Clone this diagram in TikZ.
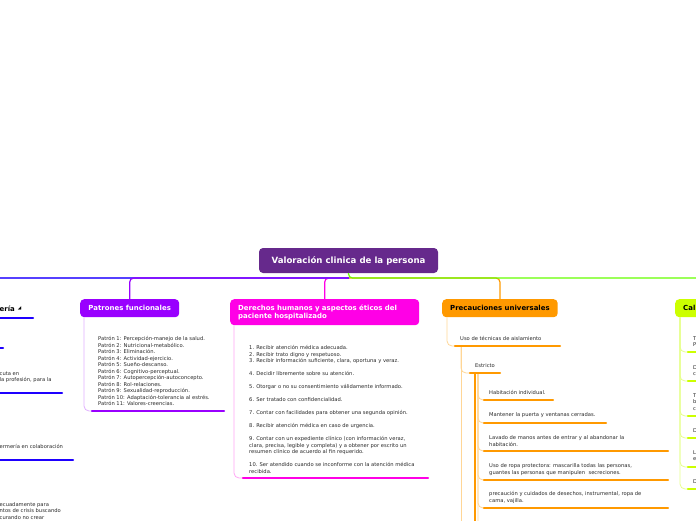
\documentclass[tikz,border=0pt]{standalone}
\usepackage{fontspec}
\setmainfont{DejaVu Sans}
\usepackage{xcolor}
\usetikzlibrary{positioning}
\definecolor{rootpurple}{RGB}{102,41,140}
\definecolor{patviolet}{RGB}{153,0,255}
\definecolor{patlight}{RGB}{224,175,255}
\definecolor{dermagenta}{RGB}{255,0,230}
\definecolor{derlight}{RGB}{255,165,245}
\definecolor{precorange}{RGB}{255,153,0}
\definecolor{preclight}{RGB}{255,214,150}
\definecolor{calgreen}{RGB}{204,255,0}
\definecolor{callight}{RGB}{230,255,140}
\definecolor{enfblue}{RGB}{30,0,255}
\definecolor{limegreen}{RGB}{102,255,0}
\definecolor{leaftext}{RGB}{40,40,40}

\tikzset{
  rootbox/.style={fill=rootpurple, rounded corners=4pt, text=white, inner sep=0pt,
    font=\bfseries\fontsize{8.6}{10}\selectfont, minimum width=179pt, minimum height=25pt},
  topicbox/.style={rounded corners=4pt, anchor=north west, inner xsep=8pt, inner ysep=0pt,
    font=\bfseries\fontsize{6.95}{8}\selectfont, minimum height=18pt},
  leaf/.style={anchor=north west, inner sep=0pt, align=left, text=leaftext,
    font=\fontsize{5.2}{6.5}\selectfont},
  bar/.style={line width=2.4pt, line cap=round},
  twig/.style={line width=0.8pt, rounded corners=5pt},
  trunk/.style={line width=1.2pt, rounded corners=4pt}
}

\begin{document}
\begin{tikzpicture}[x=1pt,y=-1pt]
\useasboundingbox (0,0) rectangle (696,520);
\clip (0,0) rectangle (696,520);

% central topic
\node[rootbox] (root) at (348.5,260.5) {Valoración clinica de la persona};
\coordinate (hub) at (349,278);
\coordinate (enfhub) at (-10,278);
\coordinate (calhub) at (710,278);

% main topics
\node[topicbox, fill=patviolet, text=white, minimum width=99pt] (patrones) at (80,299) {Patrones funcionales};
\node[topicbox, fill=dermagenta, text=white, text width=173pt, align=left, minimum height=26pt] (derechos) at (230,299)
  {Derechos humanos y aspectos éticos del\\paciente hospitalizado};
\node[topicbox, fill=precorange, text=black, minimum width=114pt] (precauciones) at (442,299) {Precauciones universales};
\node[topicbox, fill=calgreen, text=black, text width=40pt, align=left] (calidad) at (675,299) {Cal};

\draw[trunk, dermagenta] (hub) -| (derechos.north);
\draw[trunk, precorange] (hub) -| (precauciones.north);
\draw[trunk, enfblue!75] (hub) -- (enfhub);
\draw[trunk, patviolet] (hub) -| (patrones.north);
\draw[trunk, limegreen] (root.south) |- (calhub);

% enfermeria (cut at the left edge)
\node[anchor=west, inner sep=0pt, font=\bfseries\fontsize{6.95}{8}\selectfont] (enfermeria) at (-0.5,308.5) {ería};
\node[right=2.5pt of enfermeria, inner sep=0pt, font=\fontsize{4.5}{5}\selectfont] (enfmark) {◢};
\node[leaf] (enfcuta) at (-0.5,371.5) {cuta en\\la profesión, para la};
\node[leaf] (enfcolab) at (-0.5,444.5) {ermería en colaboración};
\node[leaf] (enfcrisis) at (-0.5,502) {ecuadamente para\\ntos de crisis buscando\\curando no crear};
\foreach \y/\r in {318/33,348/3,393/62,460/73}
  \draw[bar, enfblue] (-5,\y) -- (\r,\y);

% patrones funcionales
\node[leaf] (patlist) at (98,336.5) {Patrón 1: Percepción-manejo de la salud.\\
  Patrón 2: Nutricional-metabólico.\\
  Patrón 3: Eliminación.\\
  Patrón 4: Actividad-ejercicio.\\
  Patrón 5: Sueño-descanso.\\
  Patrón 6: Cognitivo-perceptual.\\
  Patrón 7: Autopercepción-autoconcepto.\\
  Patrón 8: Rol-relaciones.\\
  Patrón 9: Sexualidad-reproducción.\\
  Patrón 10: Adaptación-tolerancia al estrés.\\
  Patrón 11: Valores-creencias.};
\coordinate (patbarL) at (92,411);
\coordinate (patbarR) at (224,411);
\draw[twig, patlight] ([xshift=4pt]patrones.south west) |- (patbarL);
\draw[bar, patviolet] (patbarL) -- (patbarR);

% derechos
\node[leaf] (derlist) at (249,345.5) {1. Recibir atención médica adecuada.\\
  2. Recibir trato digno y respetuoso.\\
  3. Recibir información suficiente, clara, oportuna y veraz.\\[6.5pt]
  4. Decidir libremente sobre su atención.\\[6.5pt]
  5. Otorgar o no su consentimiento válidamente informado.\\[6.5pt]
  6. Ser tratado con confidencialidad.\\[6.5pt]
  7. Contar con facilidades para obtener una segunda opinión.\\[6.5pt]
  8. Recibir atención médica en caso de urgencia.\\[6.5pt]
  9. Contar con un expediente clínico (con información veraz,\\
  clara, precisa, legible y completa) y a obtener por escrito un\\
  resumen clínico de acuerdo al fin requerido.\\[6.5pt]
  10. Ser atendido cuando se inconforme con la atención médica\\
  recibida.};
\coordinate (derbarL) at (243,478);
\coordinate (derbarR) at (428,478);
\draw[twig, derlight] ([xshift=4pt]derechos.south west) |- (derbarL);
\draw[bar, dermagenta] (derbarL) -- (derbarR);

% precauciones universales
\node[leaf] (aislamiento) at (460,336.5) {Uso de técnicas de aislamiento};
\coordinate (aisL) at (455,346);
\coordinate (aisR) at (560,346);
\coordinate (aisnext) at (461,530);
\draw[twig, preclight] ([xshift=5pt]precauciones.south west) |- (aisL);
\draw[twig, preclight] ([xshift=6pt]aisL) -- (aisnext);

\node[leaf] (estricto) at (475,363.5) {Estricto};
\coordinate (estL) at (470,373);
\coordinate (estR) at (500,373);
\coordinate (estnext) at (475,530);
\draw[twig, preclight] ([xshift=6pt]aisL) |- (estL);

\node[leaf] (habitacion) at (489,390.5) {Habitación individual.};
\node[leaf] (puerta) at (489,412.5) {Mantener la puerta y ventanas cerradas.};
\node[leaf] (lavado) at (489,435.5) {Lavado de manos antes de entrar y al abandonar la\\habitación.};
\node[leaf] (ropa) at (489,463.5) {Uso de ropa protectora: mascarilla todas las personas,\\guantes las personas que manipulen\ \ secreciones.};
\node[leaf] (desechos) at (489,491.5) {precaución y cuidados de desechos, instrumental, ropa de\\cama, vajilla.};
\coordinate (habL) at (484,400);
\coordinate (puertaL) at (484,423);
\coordinate (lavadoL) at (484,451);
\coordinate (ropaL) at (484,480);
\coordinate (desechosL) at (484,508);
\coordinate (masL) at (484,536);
\foreach \b in {habL,puertaL,lavadoL,ropaL,desechosL,masL}
  \draw[twig, preclight] ([xshift=8pt]estL) |- (\b);
\draw[line width=1.2pt, precorange] ([xshift=5pt]estL) -- (estnext);
\draw[bar, precorange] (aisL) -- (aisR);
\draw[bar, precorange] (estL) -- (estR);
\draw[bar, precorange] (habL) -- (553,400);
\draw[bar, precorange] (puertaL) -- (606,423);
\draw[bar, precorange] (lavadoL) -- (668,451);
\draw[bar, precorange] (ropaL) -- (668,480);
\draw[bar, precorange] (desechosL) -- (668,508);

% calidad (cut at the right edge)
\node[leaf] (cal1) at (693,336.5) {T\\P};
\node[leaf] (cal2) at (693,365.5) {D\\c};
\node[leaf] (cal3) at (693,393.5) {T\\b\\c};
\node[leaf] (cal4) at (693,428.5) {D};
\node[leaf] (cal5) at (693,450.5) {L\\e};
\node[leaf] (cal6) at (693,479.5) {D};
\foreach \y in {352,381,416,438,467,489}{
  \draw[twig, callight] ([xshift=5pt]calidad.south west) |- (688,\y);
  \draw[bar, calgreen] (688,\y) -- (705,\y);
}
\end{tikzpicture}
\end{document}
